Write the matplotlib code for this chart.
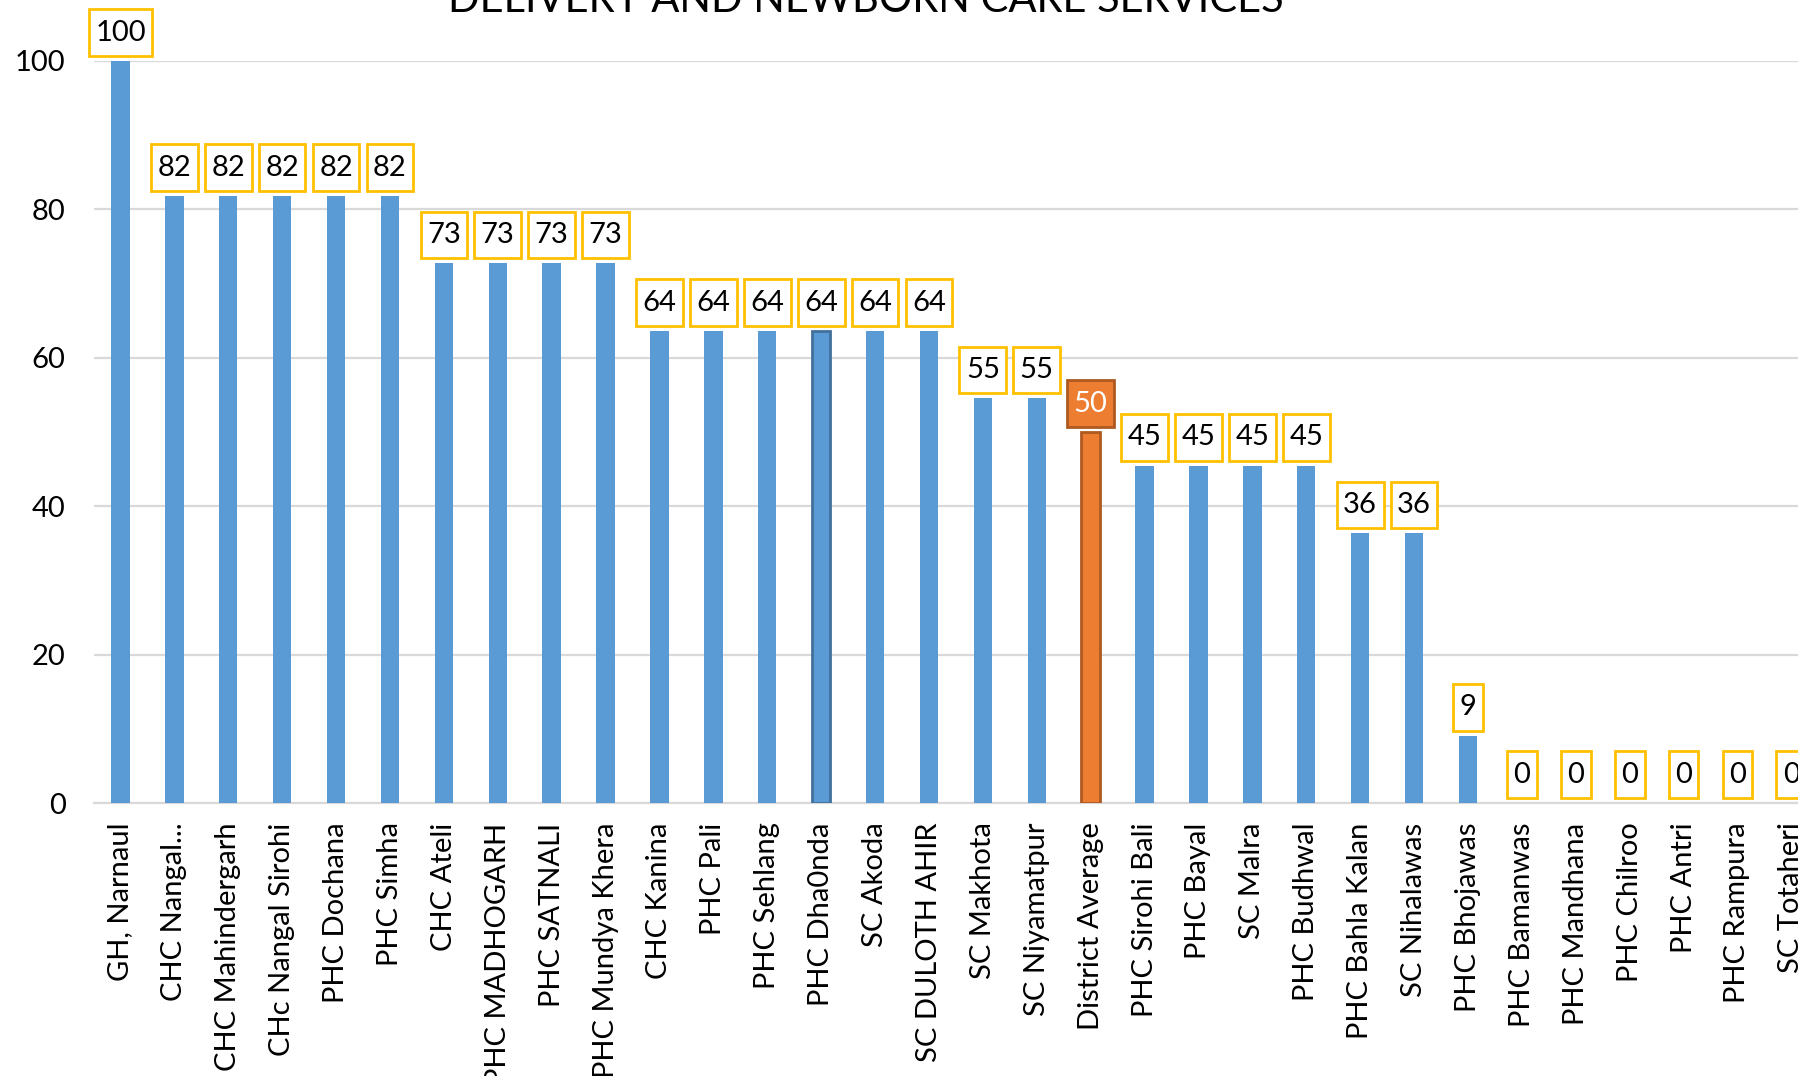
import numpy as np
import matplotlib.pyplot as plt

# facility scores (% of checklist met)
facilities = ["GH, Narnaul", "CHC Nangal...", "CHC Mahindergarh", "CHc Nangal Sirohi",
              "PHC Dochana", "PHC Simha", "CHC Ateli", "PHC MADHOGARH", "PHC SATNALI",
              "PHC Mundya Khera", "CHC Kanina", "PHC Pali", "PHC Sehlang", "PHC Dha0nda",
              "SC Akoda", "SC DULOTH AHIR", "SC Makhota", "SC Niyamatpur", "District Average",
              "PHC Sirohi Bali", "PHC Bayal", "SC Malra", "PHC Budhwal", "PHC Bahla Kalan",
              "SC Nihalawas", "PHC Bhojawas", "PHC Bamanwas", "PHC Mandhana", "PHC Chilroo",
              "PHC Antri", "PHC Rampura", "SC Totaheri"]
scores = [100, 81.82, 81.82, 81.82, 81.82, 81.82, 72.73, 72.73, 72.73, 72.73,
          63.64, 63.64, 63.64, 63.64, 63.64, 63.64, 54.55, 54.55, 50.0,
          45.45, 45.45, 45.45, 45.45, 36.36, 36.36, 9.09, 0, 0, 0, 0, 0, 0]
title = "DELIVERY AND NEWBORN CARE SERVICES"

blue = "#5B9BD5"
orange = "#ED7D31"
gold = "#FFC000"
font = "Lato"

W, H = 1798, 1076
fig = plt.figure(figsize=(W / 100, H / 100), dpi=100)
plt.rcParams['font.family'] = [font, 'DejaVu Sans']

n = len(facilities)
step = 53.9
left = 93.5
ax = fig.add_axes([left / W, (H - 803) / H, n * step / W, (803 - 61) / H])

x = np.arange(n)
colors = [orange if f == "District Average" else blue for f in facilities]
edges = ["#AE5A21" if f == "District Average" else ("#41719C" if f == "PHC Dha0nda" else blue)
         for f in facilities]
lws = [2 if f in ("District Average", "PHC Dha0nda") else 0 for f in facilities]
ax.bar(x, scores, width=0.34, color=colors, edgecolor=edges, linewidth=lws, zorder=3)

ax.set_xlim(-0.5, n - 0.5)
ax.set_ylim(0, 100)
ax.set_yticks(np.arange(0, 101, 20))
ax.grid(axis='y', color="#D9D9D9", linewidth=1.6, zorder=0)
for s in ['top', 'right', 'left']:
    ax.spines[s].set_visible(False)
ax.spines['bottom'].set_color("#D9D9D9")
ax.spines['bottom'].set_linewidth(1.6)
ax.tick_params(axis='both', length=0, labelsize=21)
ax.tick_params(axis='y', pad=20)
ax.tick_params(axis='x', pad=14)
ax.set_xticks(x)
ax.set_xticklabels(facilities, rotation=90)

for xi, v, f in zip(x, scores, facilities):
    avg = f == "District Average"
    ax.annotate(f"{v:.0f}", (xi, v), xytext=(0, 11), textcoords='offset points',
                ha='center', va='bottom', fontsize=21,
                color='white' if avg else 'black', annotation_clip=False,
                bbox=dict(boxstyle='square,pad=0.22', mutation_aspect=1.6,
                          fc=orange if avg else 'white',
                          ec="#AE5A21" if avg else gold, lw=2), zorder=5)

fig.text(866 / W, (H - 12) / H, title, ha='center', va='baseline', fontsize=30)

fig.savefig("out.png", dpi=100)
